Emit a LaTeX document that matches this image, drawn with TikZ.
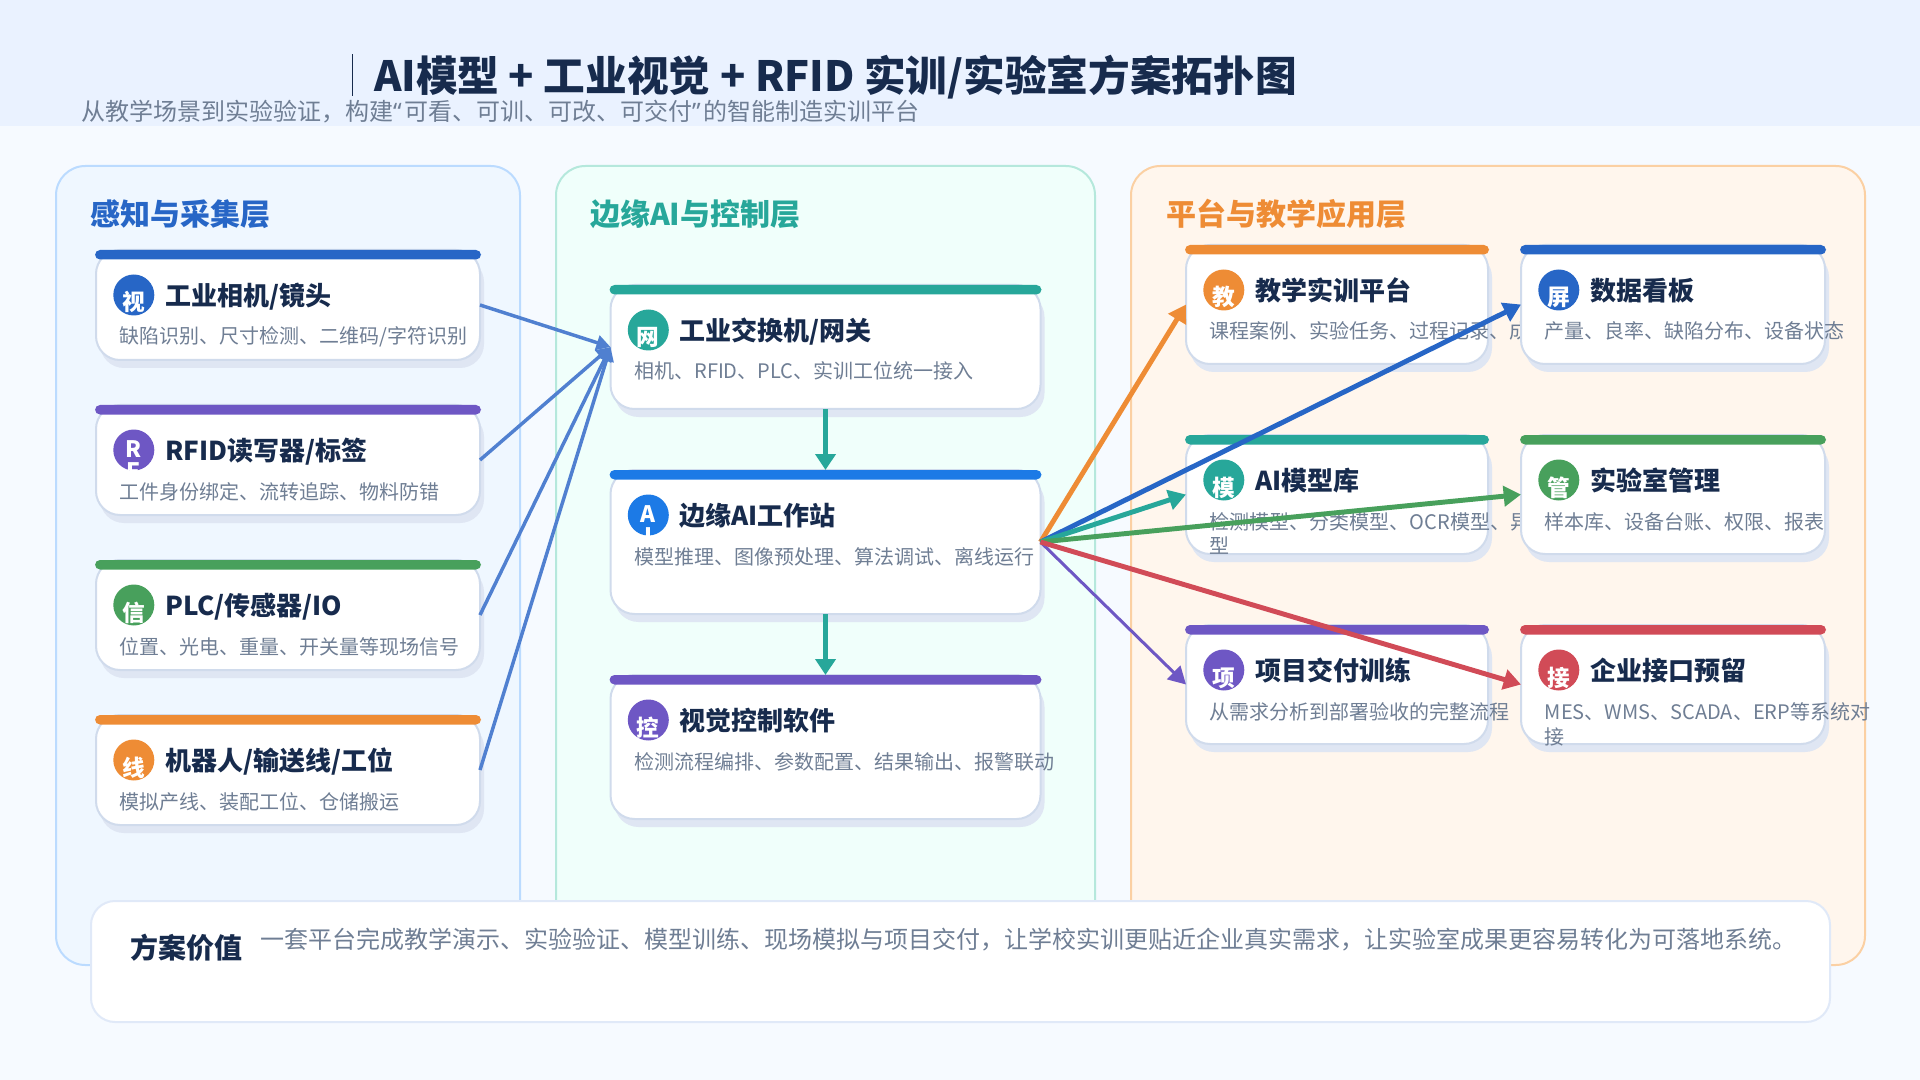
\documentclass[tikz,border=0pt]{standalone}
\usepackage{fontspec}
\setmainfont{Noto Sans CJK SC}
\newfontfamily\quotefont{Noto Sans}
\usetikzlibrary{arrows.meta}
\definecolor{pagebg}{HTML}{F6FAFF}
\definecolor{headbg}{HTML}{EAF2FF}
\definecolor{ink}{HTML}{172B4D}
\definecolor{muted}{HTML}{6F7E94}
\definecolor{cblue}{HTML}{2766C6}
\definecolor{cbright}{HTML}{1C7AE6}
\definecolor{cpurple}{HTML}{6E57C4}
\definecolor{cgreen}{HTML}{48A05C}
\definecolor{corange}{HTML}{EE8C35}
\definecolor{cteal}{HTML}{27A79A}
\definecolor{cred}{HTML}{D14B57}
\definecolor{clink}{HTML}{5080D0}
\definecolor{cardline}{HTML}{D0DBEC}
\definecolor{cardshadow}{HTML}{DFE6F3}
\definecolor{pabg}{HTML}{EFF7FF}
\definecolor{paline}{HTML}{BBDBFF}
\definecolor{pbbg}{HTML}{F0FFFB}
\definecolor{pbline}{HTML}{B5E8DC}
\definecolor{pcbg}{HTML}{FFF6ED}
\definecolor{pcline}{HTML}{FBD0A3}
\definecolor{valueline}{HTML}{E0E9F8}
\tikzset{
  panelbox/.style={draw=#1,line width=1.5pt,rounded corners=22pt,inner sep=0pt,outer sep=0pt},
  cardbox/.style={draw=cardline,line width=1.5pt,fill=white,rounded corners=18pt,inner sep=0pt,outer sep=0pt},
  txt/.style={anchor=base west,inner sep=0pt,outer sep=0pt},
  headtxt/.style={txt,font=\fontsize{31.25}{36}\selectfont\bfseries,text=ink},
  subtxt/.style={txt,font=\fontsize{18}{22}\selectfont,text=muted},
  paneltxt/.style={txt,font=\fontsize{22.5}{26}\selectfont\bfseries,text=#1},
  cardtitle/.style={txt,font=\fontsize{19.5}{24}\selectfont\bfseries,text=ink},
  carddesc/.style={txt,font=\fontsize{15}{18}\selectfont,text=muted},
  icontxt/.style={anchor=base,inner sep=0pt,outer sep=0pt,font=\fontsize{17}{20}\selectfont\bfseries,text=white},
  iconbox/.style={circle,fill=#1,inner sep=0pt,outer sep=0pt,minimum size=30.75pt},
  conn/.style={draw=#1,line width=3.7pt,-{Triangle[length=13pt,width=15pt]}},
  connv/.style={draw=#1,line width=3.7pt,-{Triangle[length=12pt,width=15pt]}},
  connthin/.style={draw=#1,line width=2.25pt,-{Triangle[length=13pt,width=14pt]}},
  connleft/.style={draw=#1,line width=2.6pt,-{Triangle[length=10.5pt,width=11pt]}}
}
% name, left, top, width, height, colour, icon, title, description
\newcommand\mycard[9]{%
  \pgfmathsetmacro\mycx{#2+#4/2}%
  \pgfmathsetmacro\mycy{#3+#5/2}%
  \pgfmathsetmacro\myix{#2+37.8}%
  \pgfmathsetmacro\myiy{#3+45}%
  \fill[cardshadow,rounded corners=18pt] (#2+4,#3+8) rectangle (#2+#4+4,#3+#5+8);
  \node[cardbox,minimum width=#4*0.75pt,minimum height=#5*0.75pt] (#1) at (\mycx,\mycy) {};
  \fill[#6,rounded corners=3.75pt] (#2-1,#3) rectangle (#2+#4+1,#3+9.5);
  \node[iconbox=#6] (#1i) at (\myix,\myiy) {};
  \begin{scope}
    \clip (\myix,\myiy) circle (20.5);
    #7
  \end{scope}
  \node[cardtitle] (#1t) at (#2+69.2,#3+55.5) {#8};
  \node[carddesc] (#1d) at (#2+23.8,#3+94) {#9};
}
\newcommand\oneicon[1]{\node[icontxt] at (\myix,\myiy+16) {#1};}
\newcommand\twoicon[2]{\node[icontxt] at (\myix,\myiy+7) {#1};\node[icontxt] at (\myix,\myiy+29) {#2};}
\begin{document}
\begin{tikzpicture}[x=0.75pt,y=-0.75pt]
\useasboundingbox (0,0) rectangle (1920,1080);
\fill[pagebg] (0,0) rectangle (1920,1080);
\fill[headbg] (0,0) rectangle (1920,126);
\fill[ink] (351.5,54) rectangle (353,96);
\node[subtxt] (subtitle) at (81,121) {从教学场景到实验验证，构建{\quotefont “}\kern1.9pt 可看、可训、可改、可交付{\quotefont ”}\kern1.9pt 的智能制造实训平台};
\node[headtxt] (title) at (374,92) {AI模型 + 工业视觉 + RFID 实训/实验室方案拓扑图};

\draw[panelbox=paline,fill=pabg] (56,166) rectangle (520,965);
\draw[panelbox=pbline,fill=pbbg] (556,166) rectangle (1095,965);
\draw[panelbox=pcline,fill=pcbg] (1131,166) rectangle (1865,965);
\node[paneltxt=cblue] (pa) at (90,226) {感知与采集层};
\node[paneltxt=cteal] (pb) at (590,226) {边缘AI与控制层};
\node[paneltxt=corange] (pc) at (1166,226) {平台与教学应用层};

\mycard{cam}{96}{250}{384}{110}{cblue}{\oneicon{视}}{工业相机/镜头}{缺陷识别、尺寸检测、二维码/字符识别}
\mycard{rfid}{96}{405}{384}{110}{cpurple}{\twoicon{R}{F}}{RFID读写器/标签}{工件身份绑定、流转追踪、物料防错}
\mycard{plc}{96}{560}{384}{110}{cgreen}{\oneicon{信}}{PLC/传感器/IO}{位置、光电、重量、开关量等现场信号}
\mycard{robot}{96}{715}{384}{110}{corange}{\oneicon{线}}{机器人/输送线/工位}{模拟产线、装配工位、仓储搬运}

\mycard{net}{610.5}{285}{430}{124}{cteal}{\oneicon{网}}{工业交换机/网关}{相机、RFID、PLC、实训工位统一接入}
\mycard{edge}{610.5}{470}{430}{144}{cbright}{\twoicon{A}{I}}{边缘AI工作站}{模型推理、图像预处理、算法调试、离线运行}
\mycard{soft}{610.5}{675}{430}{144}{cpurple}{\oneicon{控}}{视觉控制软件}{检测流程编排、参数配置、结果输出、报警联动}

\mycard{teach}{1186}{245}{302}{119}{corange}{\oneicon{教}}{教学实训平台}{课程案例、实验任务、过程记录、成}
\mycard{board}{1521}{245}{304}{119}{cblue}{\oneicon{屏}}{数据看板}{产量、良率、缺陷分布、设备状态}
\mycard{model}{1186}{435}{302}{119}{cteal}{\oneicon{模}}{AI模型库}{检测模型、分类模型、OCR模型、异}
\node[carddesc] (modelb) at (1209.8,553.5) {型};
\mycard{lab}{1521}{435}{304}{119}{cgreen}{\oneicon{管}}{实验室管理}{样本库、设备台账、权限、报表}
\mycard{proj}{1186}{625}{302}{119}{cpurple}{\oneicon{项}}{项目交付训练}{从需求分析到部署验收的完整流程}
\mycard{iface}{1521}{625}{304}{119}{cred}{\oneicon{接}}{企业接口预留}{MES、WMS、SCADA、ERP等系统对}
\node[carddesc] (ifaceb) at (1544.8,744) {接};

\draw[draw=valueline,line width=1.5pt,fill=white,rounded corners=18pt] (91,901) rectangle (1830,1022);
\node[txt,font=\fontsize{21}{26}\selectfont\bfseries,text=ink] (vt) at (130.5,958) {方案价值};
\node[txt,font=\fontsize{18}{22}\selectfont,text=muted] (vd) at (260,948) {一套平台完成教学演示、实验验证、模型训练、现场模拟与项目交付，让学校实训更贴近企业真实需求，让实验室成果更容易转化为可落地系统。};

\draw[connleft=clink] (cam.east) -- (net.west);
\draw[connleft=clink] (rfid.east) -- (net.west);
\draw[connleft=clink] (plc.east) -- (net.west);
\draw[connleft=clink] (robot.east) -- (net.west);
\draw[connv=cteal] (net.south) -- (edge.north);
\draw[connv=cteal] (edge.south) -- (soft.north);
\draw[conn=corange] (edge.east) -- (teach.west);
\draw[conn=cblue] (edge.east) -- (board.west);
\draw[conn=cteal] (edge.east) -- (model.west);
\draw[conn=cgreen] (edge.east) -- (lab.west);
\draw[connthin=cpurple] (edge.east) -- (proj.west);
\draw[conn=cred] (edge.east) -- (iface.west);
\end{tikzpicture}
\end{document}
